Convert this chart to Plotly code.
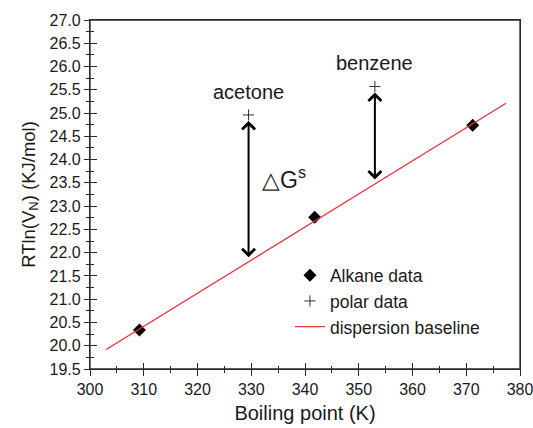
import plotly.graph_objects as go

# ---- data ----
alkane_bp = [309.2, 341.8, 371.2]
alkane_rt = [20.34, 22.76, 24.74]

polar_names = ["acetone", "benzene"]
polar_bp = [329.5, 353.0]
polar_rt = [24.96, 25.57]

baseline_bp = [303.0, 377.4]
baseline_rt = [19.92, 25.21]

x_range = [300, 380]
y_range = [19.5, 27.0]

FONT = "Liberation Sans, Arial, Helvetica, sans-serif"
AXC = "#2a2a2a"

def baseline_at(x):
    x0, x1 = baseline_bp
    y0, y1 = baseline_rt
    return y0 + (y1 - y0) * (x - x0) / (x1 - x0)

fig = go.Figure()
fig.add_trace(go.Scatter(x=alkane_bp, y=alkane_rt, mode="markers", name="Alkane data",
                         marker=dict(symbol="diamond", size=10, color="black")))
fig.add_trace(go.Scatter(x=polar_bp, y=polar_rt, mode="markers", name="polar data",
                         marker=dict(symbol="cross-thin", size=8,
                                     line=dict(width=1, color="#333333"), color="#333333")))
fig.add_trace(go.Scatter(x=baseline_bp, y=baseline_rt, mode="lines", name="dispersion baseline",
                         line=dict(color="#e5323c", width=1.3)))

# labels and arrows
for name, x, y in zip(polar_names, polar_bp, polar_rt):
    fig.add_annotation(x=x, y=y + 0.5, text=name, showarrow=False,
                       font=dict(family=FONT, size=20, color="#1a1a1a"))
    fig.add_annotation(x=x, y=y, ax=x, ay=baseline_at(x), axref="x", ayref="y",
                       xref="x", yref="y", text="", showarrow=True,
                       arrowhead=4, startarrowhead=4, arrowside="end+start",
                       arrowwidth=2, arrowsize=1.25, startarrowsize=1.25, arrowcolor="black",
                       standoff=6, startstandoff=3)

fig.add_annotation(x=336.0, y=23.6, text="△G<sup>s</sup>", showarrow=False,
                   font=dict(family=FONT, size=23, color="#1a1a1a"))

# plot frame
fig.add_shape(type="rect", xref="paper", yref="paper", x0=0, y0=0, x1=1, y1=1,
              line=dict(color=AXC, width=1.3), layer="above")

tickfont = dict(family=FONT, size=16, color="#1a1a1a")
common_x = dict(range=x_range, dtick=10, tick0=300, showgrid=False, zeroline=False, automargin=False)
common_y = dict(range=y_range, dtick=0.5, tick0=19.5, showgrid=False, zeroline=False, automargin=False)

fig.update_layout(
    width=533, height=428,
    margin=dict(l=90, r=13, t=20, b=59),
    paper_bgcolor="white", plot_bgcolor="white",
    font=dict(family=FONT, color="#1a1a1a"),
    showlegend=True,
    legend=dict(x=0.465, y=0.32, xanchor="left", yanchor="top",
                bgcolor="rgba(0,0,0,0)", font=dict(family=FONT, size=17.5, color="#1a1a1a"),
                tracegroupgap=0),
    xaxis=dict(**common_x, showline=True, linecolor=AXC, linewidth=1.3, mirror=True,
               ticks="outside", ticklen=6, tickwidth=1.3, tickcolor=AXC,
               ticklabeloverflow="allow",
               minor=dict(ticks="outside", ticklen=3, tickwidth=1.3, dtick=5, tickcolor=AXC),
               tickfont=tickfont,
               title=dict(text="Boiling point (K)", font=dict(family=FONT, size=20), standoff=8)),
    yaxis=dict(**common_y, showline=True, linecolor=AXC, linewidth=1.3, mirror=True,
               ticks="outside", ticklen=5, tickwidth=1.3, tickcolor=AXC, tickformat=".1f",
               ticklabeloverflow="allow",
               minor=dict(ticks="outside", ticklen=3, tickwidth=1.3, dtick=0.25, tickcolor=AXC),
               tickfont=tickfont,
               title=dict(text="RTln(V<sub>N</sub>) (KJ/mol)", font=dict(family=FONT, size=18.5), standoff=9)),
    xaxis2=dict(**common_x, overlaying="x", anchor="y", side="bottom", showline=False,
                ticks="inside", ticklen=6, tickwidth=1.3, tickcolor=AXC, showticklabels=False,
                minor=dict(ticks="inside", ticklen=3, tickwidth=1.3, dtick=5, tickcolor=AXC)),
    yaxis2=dict(**common_y, overlaying="y", anchor="x", side="left", showline=False,
                ticks="inside", ticklen=7, tickwidth=1.3, tickcolor=AXC, showticklabels=False,
                minor=dict(ticks="inside", ticklen=4, tickwidth=1.3, dtick=0.25, tickcolor=AXC)),
)

# invisible trace to activate overlay axes
fig.add_trace(go.Scatter(x=[x_range[0]], y=[y_range[0]], xaxis="x2", yaxis="y2",
                         mode="markers", marker=dict(opacity=0), showlegend=False,
                         hoverinfo="skip"))

fig.write_html("out.html")
